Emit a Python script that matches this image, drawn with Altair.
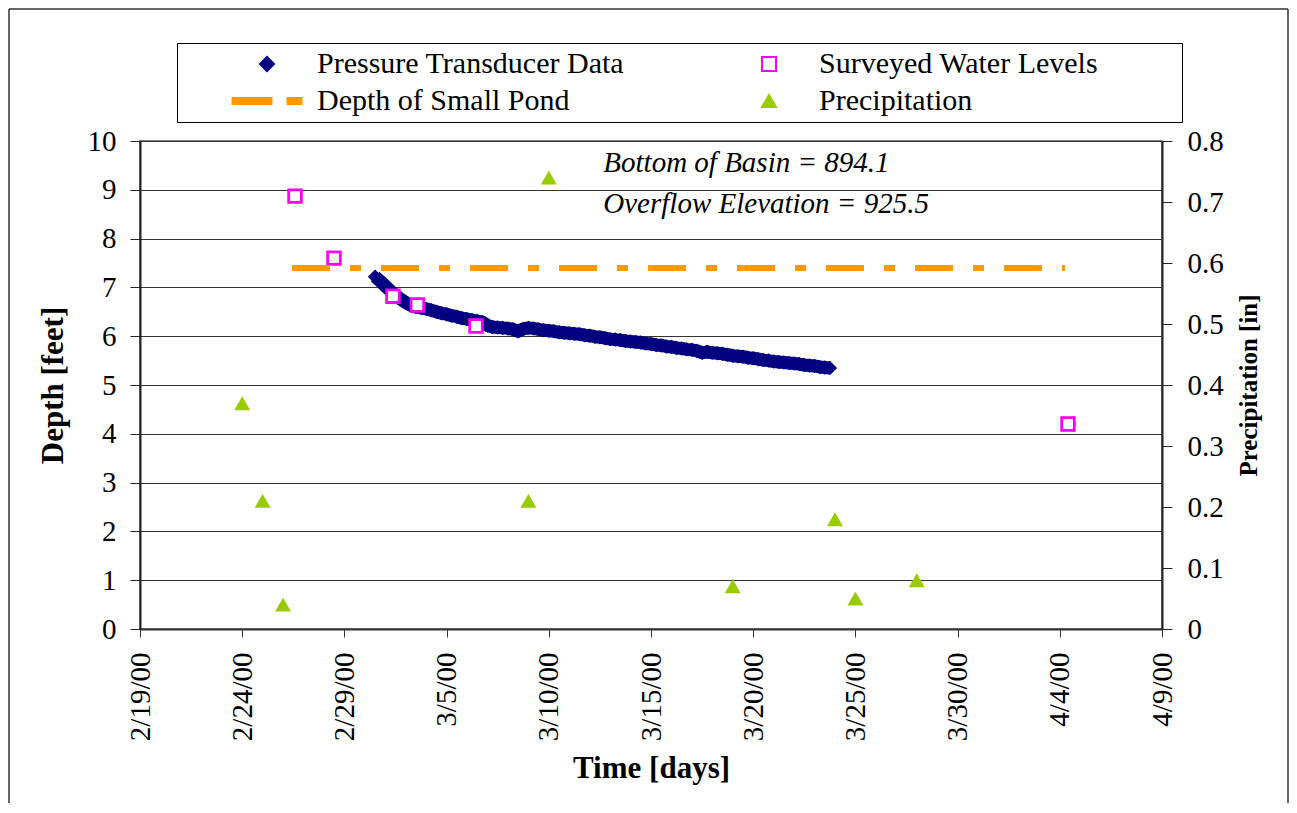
import altair as alt
import pandas as pd

FONT = "Liberation Serif"

# ---- data ----
# Pressure transducer depth [ft], one reading every 6 hours starting 3/1/00 12:00
transducer_start = "2000-03-01 12:00"
transducer_depth = [
    7.22, 7.13, 7.03, 6.93, 6.84, 6.76, 6.69, 6.63, 6.60, 6.58,
    6.56, 6.53, 6.50, 6.47, 6.45, 6.42, 6.40, 6.37, 6.35, 6.33,
    6.31, 6.29, 6.22, 6.19, 6.18, 6.17, 6.16, 6.14, 6.10, 6.15,
    6.17, 6.16, 6.14, 6.12, 6.11, 6.10, 6.08, 6.07, 6.06, 6.05,
    6.04, 6.02, 6.01, 5.99, 5.98, 5.96, 5.94, 5.93, 5.92, 5.90,
    5.89, 5.88, 5.87, 5.85, 5.84, 5.82, 5.81, 5.79, 5.78, 5.76,
    5.75, 5.73, 5.72, 5.70, 5.66, 5.68, 5.66, 5.65, 5.64, 5.62,
    5.60, 5.59, 5.58, 5.56, 5.55, 5.53, 5.51, 5.50, 5.48, 5.47,
    5.46, 5.45, 5.44, 5.43, 5.41, 5.40, 5.39, 5.37, 5.36, 5.35,
]

survey_dates = ["2000-02-26 14:00", "2000-02-28 11:45", "2000-03-02 09:00",
                "2000-03-03 13:40", "2000-03-06 10:30", "2000-04-04 09:40"]
survey_depth = [8.87, 7.60, 6.82, 6.64, 6.21, 4.20]

pond_dates = ["2000-02-26 10:30", "2000-04-04 06:00"]
pond_depth = [7.40, 7.40]

precip_dates = ["2000-02-24", "2000-02-25", "2000-02-26", "2000-03-09", "2000-03-10",
                "2000-03-19", "2000-03-24", "2000-03-25", "2000-03-28"]
precip_in = [0.37, 0.21, 0.04, 0.21, 0.74, 0.07, 0.18, 0.05, 0.08]

note_dates = ["2000-03-12 16:00", "2000-03-12 16:00"]
note_depth = [9.36, 8.52]
note_text = ["Bottom of Basin = 894.1", "Overflow Elevation = 925.5"]

# legend order (column-major: left column first, then right column)
series_names = ["Pressure Transducer Data", "Depth of Small Pond",
                "Surveyed Water Levels", "Precipitation"]

x_ticks = [(2, 19), (2, 24), (2, 29), (3, 5), (3, 10), (3, 15), (3, 20),
           (3, 25), (3, 30), (4, 4), (4, 9)]
depth_ticks = [0, 1, 2, 3, 4, 5, 6, 7, 8, 9, 10]
precip_ticks = [0, 0.1, 0.2, 0.3, 0.4, 0.5, 0.6, 0.7, 0.8]

# ---- tables ----
df_trans = pd.DataFrame({
    "date": pd.date_range(transducer_start, periods=len(transducer_depth), freq="6h"),
    "depth": transducer_depth,
})
df_survey = pd.DataFrame({"date": pd.to_datetime(survey_dates), "depth": survey_depth})
df_pond = pd.DataFrame({"date": pd.to_datetime(pond_dates), "depth": pond_depth})
df_precip = pd.DataFrame({"date": pd.to_datetime(precip_dates), "precip": precip_in})
df_note = pd.DataFrame({"date": pd.to_datetime(note_dates), "depth": note_depth, "text": note_text})
df_legend = pd.DataFrame({"series": pd.Series([], dtype=str)})
df_frame = pd.DataFrame({"frame": [0]})

# ---- scales / axes ----
x_scale = alt.Scale(domain=[alt.DateTime(year=2000, month=2, date=19),
                            alt.DateTime(year=2000, month=4, date=9)])
x_axis = alt.Axis(
    title="Time [days]", values=[alt.DateTime(year=2000, month=m, date=d) for m, d in x_ticks],
    format="%-m/%-d/%y", labelAngle=270, labelFlush=False, labelOverlap=False,
    tickSize=8, tickColor="#333333", domainColor="#333333", domainWidth=2,
    labelPadding=15, labelFont=FONT, labelFontSize=29, labelColor="black",
    titleFont=FONT, titleFontSize=31, titleFontWeight="bold", titleColor="black",
    titlePadding=13, grid=False,
)
y_scale = alt.Scale(domain=[0, 10], nice=False)
y_axis = alt.Axis(
    title="Depth [feet]", values=depth_ticks, tickSize=10, tickColor="#222222",
    domainColor="#222222", domainWidth=2, labelPadding=14, labelFont=FONT,
    labelFontSize=29, labelColor="black", labelFlush=False,
    titleFont=FONT, titleFontSize=31, titleFontWeight="bold", titleColor="black",
    titlePadding=18, grid=True, gridColor="#333333", gridWidth=1.2,
)
p_scale = alt.Scale(domain=[0, 0.8], nice=False)
p_axis = alt.Axis(
    title="Precipitation [in]", orient="right", values=precip_ticks,
    labelExpr="datum.value == 0 ? '0' : format(datum.value, '.1f')",
    tickSize=10, tickColor="#222222", domainColor="#222222", domainWidth=2,
    labelPadding=15, labelFont=FONT, labelFontSize=29, labelColor="black", labelFlush=False,
    titleFont=FONT, titleFontSize=25, titleFontWeight="bold", titleColor="black",
    titleAngle=270, titleBaseline="top", titlePadding=13, grid=False,
)

X = alt.X("date:T", scale=x_scale, axis=x_axis)
Y = alt.Y("depth:Q", scale=y_scale, axis=y_axis)

# ---- legend (built from scales) ----
pond_symbol = "M-4.93,-0.43H0.64V0.43H-4.93Z M2.93,-0.43H4.93V0.43H2.93Z"
legend = alt.Legend(
    title=".", titleOrient="right", titleOpacity=0, titleFontSize=10, titlePadding=75,
    orient="none", legendX=37, legendY=-98, columns=2,
    columnPadding=60, rowPadding=7, padding=6, strokeColor="black", fillColor="white",
    symbolSize=196, symbolStrokeWidth=2, symbolOffset=69, labelOffset=35,
    labelFont=FONT, labelFontSize=30, labelColor="black", labelLimit=700,
)
legend_layer = alt.Chart(df_legend).mark_point(filled=True, opacity=1).encode(
    fill=alt.Fill("series:N", scale=alt.Scale(domain=series_names,
                  range=["#000080", "#FF9900", "#FFFFFF", "#99CC00"]), legend=legend),
    stroke=alt.Stroke("series:N", scale=alt.Scale(domain=series_names,
                      range=["#000080", "#FF9900", "#FF00FF", "#99CC00"]), legend=legend),
    shape=alt.Shape("series:N", scale=alt.Scale(domain=series_names,
                    range=["diamond", pond_symbol, "square", "triangle-up"]), legend=legend),
)

# ---- outer frame (top, left, right edges) ----
frame_style = dict(color="#333333", strokeWidth=1.5)
frame_top = alt.Chart(df_frame).mark_rule(**frame_style).encode(
    x=alt.value(-131), x2=alt.value(1148), y=alt.value(-132))
frame_left = alt.Chart(df_frame).mark_rule(**frame_style).encode(
    x=alt.value(-131), y=alt.value(-132), y2=alt.value(662))
frame_right = alt.Chart(df_frame).mark_rule(**frame_style).encode(
    x=alt.value(1148), y=alt.value(-132), y2=alt.value(662))

# ---- data layers ----
trans_band = alt.Chart(df_trans).mark_line(
    color="#000080", strokeWidth=13, strokeJoin="round", strokeCap="butt"
).encode(x=X, y=Y)
trans = alt.Chart(df_trans).mark_point(
    shape="diamond", filled=True, size=210, color="#000080", opacity=1
).encode(x=X, y=Y)
survey = alt.Chart(df_survey).mark_point(
    shape="square", filled=True, size=160, fill="#FFFFFF", stroke="#FF00FF",
    strokeWidth=2.8, opacity=1
).encode(x=X, y=Y)
pond = alt.Chart(df_pond).mark_line(
    color="#FF9900", strokeWidth=6, strokeDash=[38, 20, 11, 20], strokeCap="butt"
).encode(x=X, y=Y)
notes = alt.Chart(df_note).mark_text(
    align="left", baseline="alphabetic", font=FONT, fontSize=29, fontStyle="italic", color="black"
).encode(x=X, y=Y, text="text:N")

left = alt.layer(frame_top, frame_left, frame_right, trans_band, trans, survey, pond,
                 notes, legend_layer)

precip = alt.Chart(df_precip).mark_point(
    shape="triangle-up", filled=True, size=256, color="#99CC00", opacity=1
).encode(x=X, y=alt.Y("precip:Q", scale=p_scale, axis=p_axis))

chart = alt.layer(left, precip).resolve_scale(y="independent").properties(
    width=1022, height=488, padding={"left": 0, "top": 0, "right": 0, "bottom": 0},
    background="white",
).configure(font=FONT).configure_view(stroke="#808080", strokeWidth=2)

chart.save("out.html", embed_options={"renderer": "svg", "actions": False})
